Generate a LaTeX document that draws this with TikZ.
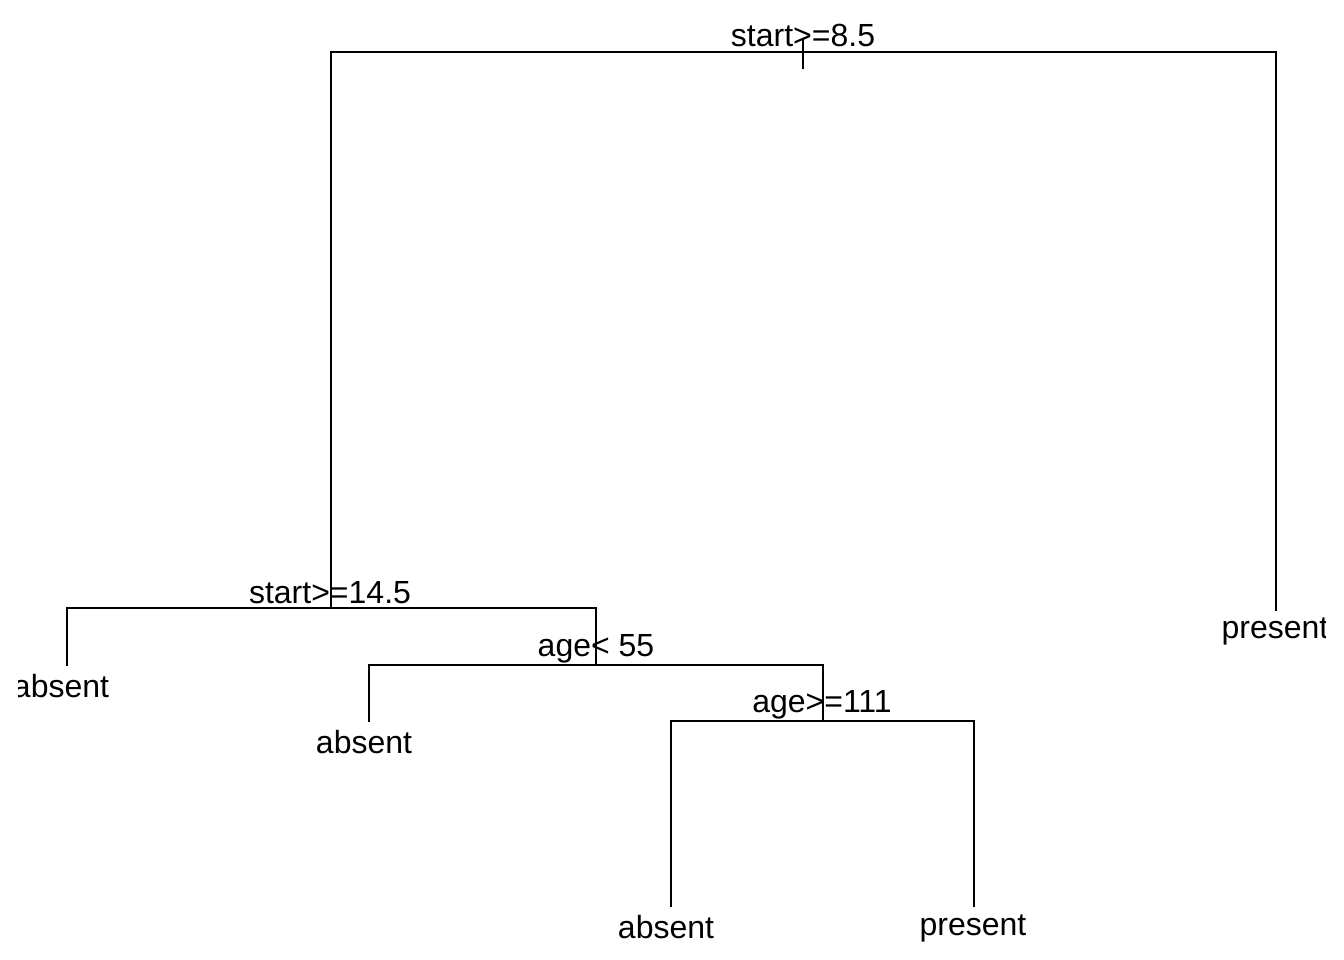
\documentclass[tikz,border=0pt]{standalone}
\usepackage{fontspec}
\setmainfont{Liberation Sans}
\begin{document}
\begin{tikzpicture}[x=1pt,y=-1pt,
  branch/.style={line width=2pt, line cap=rect},
  lbl/.style={anchor=base, inner sep=0pt, font=\fontsize{32}{32}\selectfont}]
\useasboundingbox (0,0) rectangle (1344,960);
\begin{scope}
\clip (18,0) rectangle (1325,960);
% split points of the tree
\coordinate (n1) at (803,52);
\coordinate (n1top) at (803,39);
\coordinate (n1bot) at (803,68);
\coordinate (n2) at (331,608);
\coordinate (n3) at (596,665);
\coordinate (n7) at (823,721);
% leaf end points
\coordinate (l4) at (67,665);
\coordinate (l6) at (369,721);
\coordinate (l14) at (671,906);
\coordinate (l15) at (974,906);
\coordinate (r3) at (1276,610);

% root stub and branches
\draw[branch] (n1top) -- (n1bot);
\draw[branch] (n2) |- (n1) -| (r3);
% start>=14.5
\draw[branch] (l4) |- (n2) -| (n3);
% age< 55
\draw[branch] (l6) |- (n3) -| (n7);
% age>=111
\draw[branch] (l14) |- (n7) -| (l15);

% split labels
\node[lbl] (t1) at (803,47) {start>=8.5};
\node[lbl] (t2) at (330,603) {start>=14.5};
\node[lbl] (t3) at (596,656) {age< 55};
\node[lbl] (t7) at (822,712) {age>=111};
% leaf labels
\node[lbl] (f4) at (61,697) {absent};
\node[lbl] (f6) at (364,753) {absent};
\node[lbl] (f14) at (666,938) {absent};
\node[lbl] (f15) at (973,935) {present};
\node[lbl] (f3) at (1275,638) {present};
\end{scope}
\end{tikzpicture}
\end{document}
